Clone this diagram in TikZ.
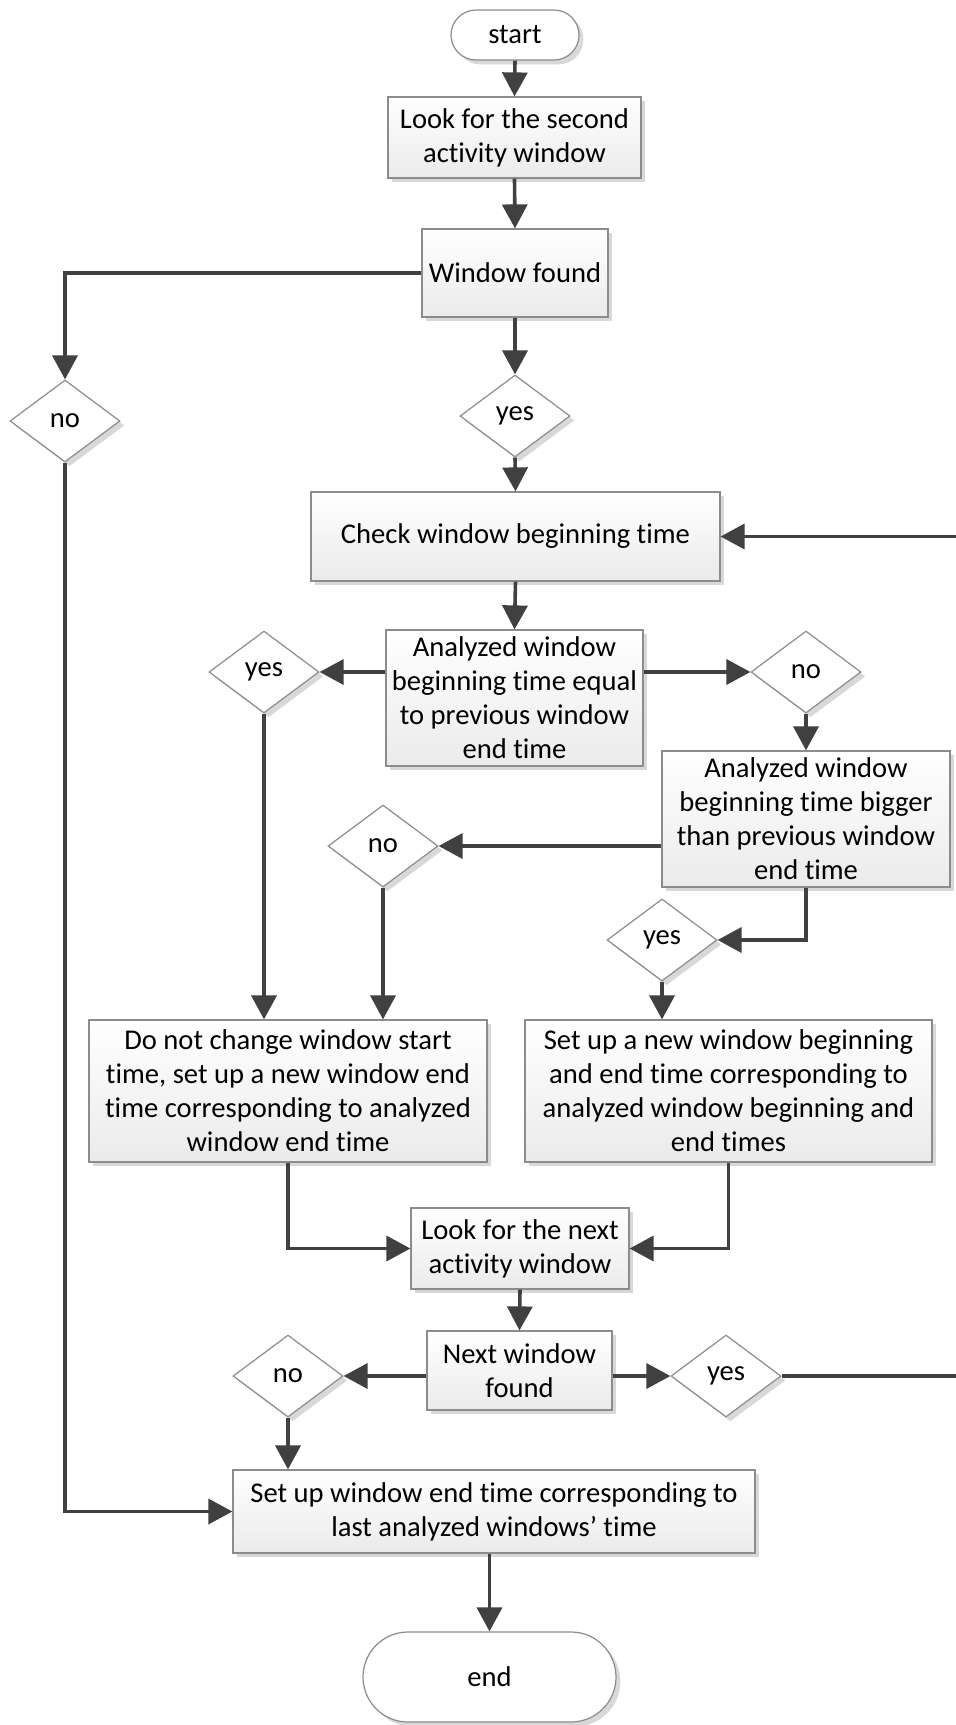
\documentclass[tikz,border=0pt]{standalone}
\usepackage{fontspec}
\setmainfont{Carlito}[Ligatures=NoCommon]
\usetikzlibrary{shapes.geometric,arrows.meta,shadows}
\definecolor{linec}{HTML}{404040}
\definecolor{bordc}{HTML}{8C8C8C}
\definecolor{shadc}{HTML}{D8D8D8}
\begin{document}
\begin{tikzpicture}[x=0.5pt,y=-0.5pt,
 font=\fontsize{14.3}{17}\selectfont,
 shad/.style={drop shadow={shadow xshift=2.2pt,shadow yshift=-2.2pt,fill=shadc,opacity=1}},
 box/.style={draw=bordc,line width=0.6pt,top color=white,bottom color=gray!16,shad,align=center,inner sep=0pt},
 dec/.style={diamond,draw=bordc,line width=0.6pt,fill=white,shad,minimum width=55pt,minimum height=41pt,inner sep=0pt},
 term/.style={draw=bordc,line width=0.6pt,fill=white,shad,inner sep=0pt},
 conn/.style={draw=linec,line width=1.8pt,-{Triangle[length=12pt,width=12.5pt]}}
]
\useasboundingbox[fill=white] (0,0) rectangle (956,1725);

\node[term,minimum width=64pt,minimum height=25pt,rounded corners=12.5pt] (start) at (515,35) {start};
\node[box,minimum width=126.5pt,minimum height=40.5pt] (box1) at (514.5,137.5) {Look for the second\\activity window};
\node[box,minimum width=93pt,minimum height=44pt] (winfound) at (515,273) {Window found};
\node[dec] (no1) at (65,421) {no};
\node[dec] (yes1) at (515,416) {yes};
\node[box,minimum width=204.5pt,minimum height=44.5pt] (check) at (515.5,536.5) {Check window beginning time};
\node[box,minimum width=128.5pt,minimum height=68pt] (eq) at (514.5,698) {Analyzed window\\beginning time equal\\to previous window\\end time};
\node[dec] (yes2) at (264,672) {yes};
\node[dec] (no2) at (806,672) {no};
\node[box,minimum width=144pt,minimum height=68pt] (big) at (806,819) {Analyzed window\\beginning time bigger\\than previous window\\end time};
\node[dec] (no3) at (383,846) {no};
\node[dec] (yes3) at (662,940) {yes};
\node[box,minimum width=199pt,minimum height=71pt] (dnc) at (288,1091) {Do not change window start\\time, set up a new window end\\time corresponding to analyzed\\window end time};
\node[box,minimum width=203.5pt,minimum height=71pt] (setnew) at (728.5,1091) {Set up a new window beginning\\and end time corresponding to\\analyzed window beginning and\\end times};
\node[box,minimum width=109pt,minimum height=40.5pt] (looknext) at (520,1248.5) {Look for the next\\activity window};
\node[box,minimum width=92.5pt,minimum height=39.5pt] (nextfound) at (519.5,1370.5) {Next window\\found};
\node[dec] (no4) at (288,1376) {no};
\node[dec] (yes4) at (726,1376) {yes};
\node[box,minimum width=261pt,minimum height=41.5pt] (setend) at (494,1511.5) {Set up window end time corresponding to\\last analyzed windows’ time};
\node[term,minimum width=126.5pt,minimum height=45pt,rounded corners=22.5pt] (end) at (489.5,1677) {end};
\coordinate (loop) at (961,536.5);

\draw[conn] (start.south) -- (box1.north);
\draw[conn] (box1.south) -- (winfound.north);
\draw[conn] (winfound.south) -- (yes1.north);
\draw[conn] (winfound.west) -| (no1.north);
\draw[conn] (yes1.south) -- (check.north);
\draw[conn] (check.south) -- (eq.north);
\draw[conn] (eq.west |- yes2.east) -- (yes2.east);
\draw[conn] (eq.east |- no2.west) -- (no2.west);
\draw[conn] (no2.south) -- (big.north);
\draw[conn] (big.west |- no3.east) -- (no3.east);
\draw[conn] (big.south) |- (yes3.east);
\draw[conn] (yes2.south) -- (yes2.south |- dnc.north);
\draw[conn] (no3.south) -- (no3.south |- dnc.north);
\draw[conn] (yes3.south) -- (yes3.south |- setnew.north);
\draw[conn] (dnc.south) |- (looknext.west);
\draw[conn] (setnew.south) |- (looknext.east);
\draw[conn] (looknext.south) -- (nextfound.north);
\draw[conn] (nextfound.west |- no4.east) -- (no4.east);
\draw[conn] (nextfound.east |- yes4.west) -- (yes4.west);
\draw[conn] (yes4.east) -| (loop) -- (check.east);
\draw[conn] (no4.south) -- (no4.south |- setend.north);
\draw[conn] (no1.south) |- (setend.west);
\draw[conn] (end.north |- setend.south) -- (end.north);
\end{tikzpicture}
\end{document}
